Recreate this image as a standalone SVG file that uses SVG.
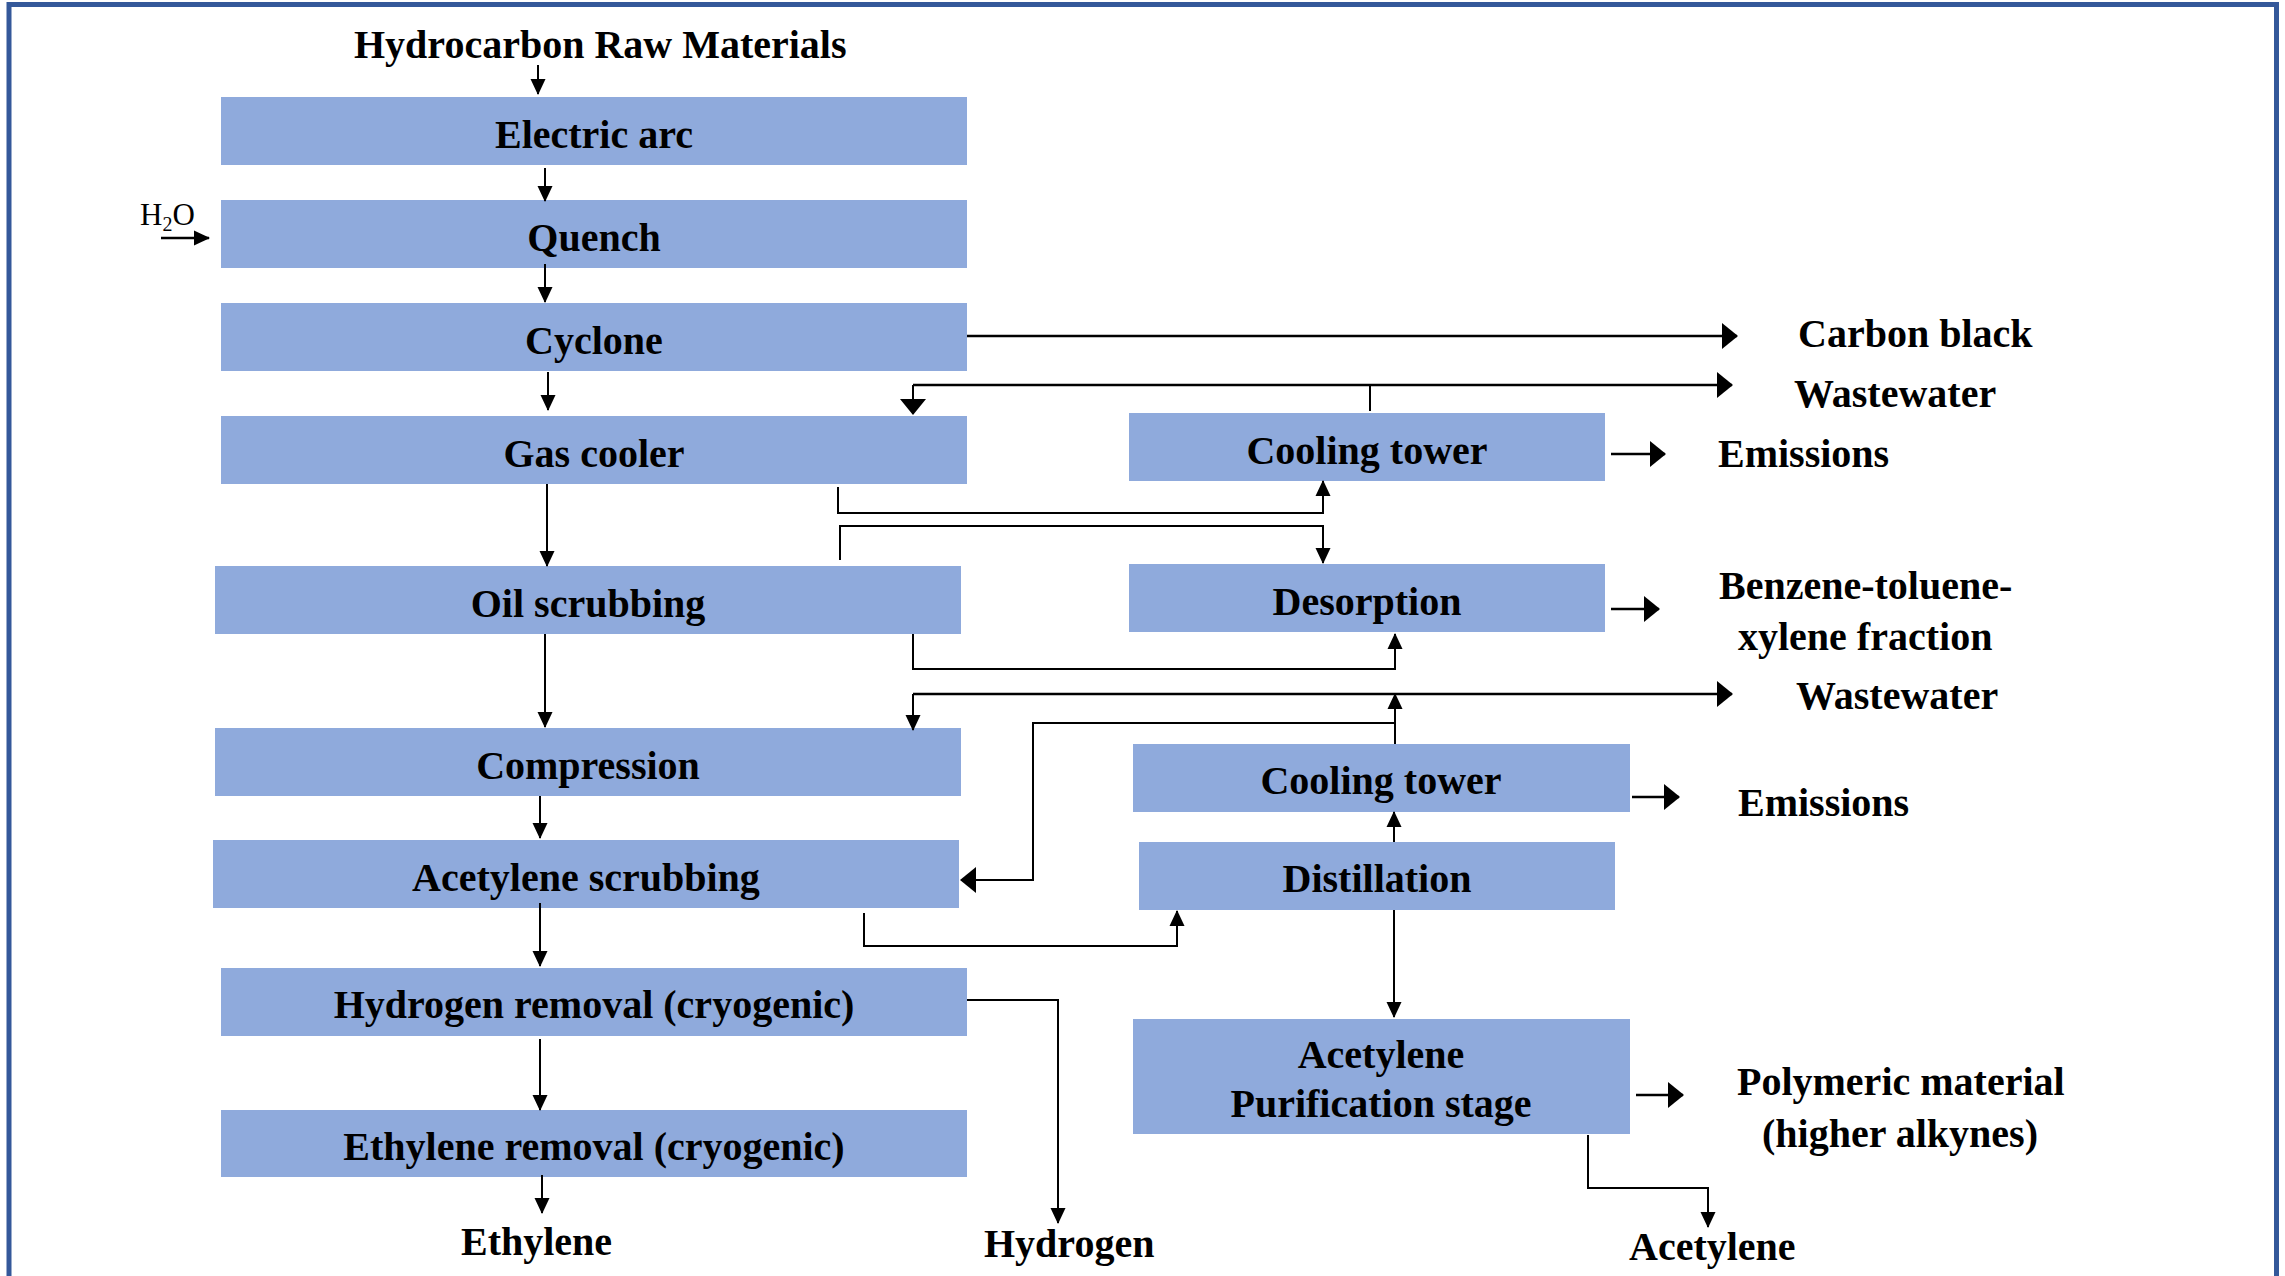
<svg xmlns="http://www.w3.org/2000/svg" width="2285" height="1276" viewBox="0 0 2285 1276">
  <defs>
    <style>
      .box { fill: #8FAADC; }
      .lbl { font-family: "Liberation Serif", "Times New Roman", serif; font-weight: bold; font-size: 40px; fill: #000; }
      .ctr { text-anchor: middle; }
      .ln { fill: none; stroke: #000; stroke-width: 2; }
      .ln2 { fill: none; stroke: #000; stroke-width: 2.5; }
      .s { marker-end: url(#hs); }
      .b { marker-end: url(#hb); }
    </style>
    <marker id="hs" viewBox="0 0 16 16" markerUnits="userSpaceOnUse" markerWidth="16" markerHeight="16" refX="15" refY="8" orient="auto">
      <path d="M0,0.5 L16,8 L0,15.5 z" fill="#000"/>
    </marker>
    <marker id="hb" viewBox="0 0 16 26" markerUnits="userSpaceOnUse" markerWidth="16" markerHeight="26" refX="15" refY="13" orient="auto">
      <path d="M0,0 L16,13 L0,26 z" fill="#000"/>
    </marker>
  </defs>

  <rect x="0" y="0" width="2285" height="1276" fill="#fff"/>
  <path d="M9,1290 V4.5 H2276.5 V1290" fill="none" stroke="#34589A" stroke-width="5"/>

  <text class="lbl" x="354" y="58">Hydrocarbon Raw Materials</text>
  <text x="140" y="225" font-family="Liberation Serif, serif" font-size="31">H<tspan font-size="20" dy="6">2</tspan><tspan dy="-6">O</tspan></text>

  <g id="electric-arc"><rect class="box" x="221" y="97" width="746" height="68"/><text class="lbl ctr" x="594" y="148">Electric arc</text></g>
  <g id="quench"><rect class="box" x="221" y="200" width="746" height="68"/><text class="lbl ctr" x="594" y="251">Quench</text></g>
  <g id="cyclone"><rect class="box" x="221" y="303" width="746" height="68"/><text class="lbl ctr" x="594" y="354">Cyclone</text></g>
  <g id="gas-cooler"><rect class="box" x="221" y="416" width="746" height="68"/><text class="lbl ctr" x="594" y="467">Gas cooler</text></g>
  <g id="oil-scrubbing"><rect class="box" x="215" y="566" width="746" height="68"/><text class="lbl ctr" x="588" y="617">Oil scrubbing</text></g>
  <g id="compression"><rect class="box" x="215" y="728" width="746" height="68"/><text class="lbl ctr" x="588" y="779">Compression</text></g>
  <g id="acetylene-scrubbing"><rect class="box" x="213" y="840" width="746" height="68"/><text class="lbl ctr" x="586" y="891">Acetylene scrubbing</text></g>
  <g id="hydrogen-removal"><rect class="box" x="221" y="968" width="746" height="68"/><text class="lbl ctr" x="594" y="1018">Hydrogen removal (cryogenic)</text></g>
  <g id="ethylene-removal"><rect class="box" x="221" y="1110" width="746" height="67"/><text class="lbl ctr" x="594" y="1160">Ethylene removal (cryogenic)</text></g>
  <g id="cooling-tower-1"><rect class="box" x="1129" y="413" width="476" height="68"/><text class="lbl ctr" x="1367" y="464">Cooling tower</text></g>
  <g id="desorption"><rect class="box" x="1129" y="564" width="476" height="68"/><text class="lbl ctr" x="1367" y="615">Desorption</text></g>
  <g id="cooling-tower-2"><rect class="box" x="1133" y="744" width="497" height="68"/><text class="lbl ctr" x="1381" y="794">Cooling tower</text></g>
  <g id="distillation"><rect class="box" x="1139" y="842" width="476" height="68"/><text class="lbl ctr" x="1377" y="892">Distillation</text></g>
  <g id="acetylene-purification"><rect class="box" x="1133" y="1019" width="497" height="115"/><text class="lbl ctr" x="1381" y="1068">Acetylene</text><text class="lbl ctr" x="1381" y="1117">Purification stage</text></g>

  <g id="outputs">
    <text class="lbl" x="1798" y="347">Carbon black</text>
    <text class="lbl" x="1794" y="407">Wastewater</text>
    <text class="lbl" x="1718" y="467">Emissions</text>
    <text class="lbl" x="1719" y="599">Benzene-toluene-</text>
    <text class="lbl" x="1738" y="650">xylene fraction</text>
    <text class="lbl" x="1796" y="709">Wastewater</text>
    <text class="lbl" x="1738" y="816">Emissions</text>
    <text class="lbl" x="1737" y="1095">Polymeric material</text>
    <text class="lbl" x="1762" y="1147">(higher alkynes)</text>
    <text class="lbl" x="461" y="1255">Ethylene</text>
    <text class="lbl" x="984" y="1257">Hydrogen</text>
    <text class="lbl" x="1629" y="1260">Acetylene</text>
  </g>

  <g id="connectors">
    <path class="ln s" d="M538,65 V94"/>
    <path class="ln s" d="M545,168 V201"/>
    <path class="ln s" d="M545,264 V302"/>
    <path class="ln s" d="M548,372 V410"/>
    <path class="ln2 s" d="M161,238 H209"/>
    <path class="ln2 b" d="M967,336 H1737"/>
    <path class="ln" d="M1370,411 V385"/>
    <path class="ln2 b" d="M913,385 H1732"/>
    <path class="ln b" d="M913,385 V414"/>
    <path class="ln s" d="M838,487 V513 H1323 V481"/>
    <path class="ln s" d="M840,560 V526 H1323 V563"/>
    <path class="ln s" d="M547,484 V566"/>
    <path class="ln s" d="M913,634 V669 H1395 V634"/>
    <path class="ln s" d="M545,634 V727"/>
    <path class="ln s" d="M1395,744 V694"/>
    <path class="ln2 b" d="M913,694 H1732"/>
    <path class="ln s" d="M913,694 V730"/>
    <path class="ln b" d="M1395,723 H1033 V880 H961"/>
    <path class="ln s" d="M1394,842 V812"/>
    <path class="ln s" d="M864,913 V946 H1177 V911"/>
    <path class="ln s" d="M540,796 V838"/>
    <path class="ln s" d="M540,903 V966"/>
    <path class="ln s" d="M540,1039 V1110"/>
    <path class="ln s" d="M542,1175 V1213"/>
    <path class="ln s" d="M967,1000 H1058 V1223"/>
    <path class="ln s" d="M1394,910 V1017"/>
    <path class="ln s" d="M1588,1135 V1188 H1708 V1227"/>
    <path class="ln2 b" d="M1611,454 H1665"/>
    <path class="ln2 b" d="M1611,609 H1659"/>
    <path class="ln2 b" d="M1632,797 H1679"/>
    <path class="ln2 b" d="M1636,1095 H1683"/>
  </g>
</svg>
